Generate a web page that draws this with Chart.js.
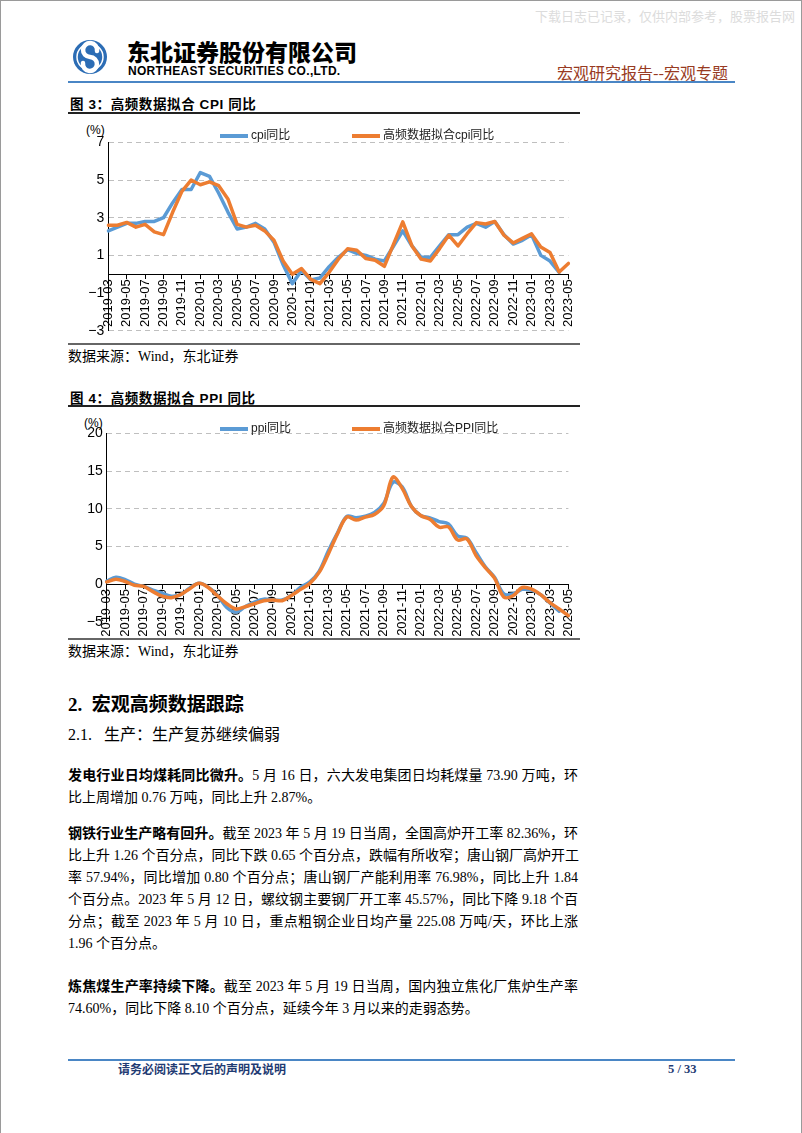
<!DOCTYPE html>
<html>
<head>
<meta charset="utf-8">
<script src="https://cdn.jsdelivr.net/npm/chart.js@4.4.0/dist/chart.umd.min.js"></script>
<style>
  body { margin: 0; width: 802px; height: 1133px; position: relative; background: #fff; overflow: hidden;
         font-family: "Liberation Serif", "Noto Sans CJK SC", serif; color: #000; }
  .a { position: absolute; white-space: nowrap; }
  .frame { left: 0; top: 0; width: 800px; height: 1133px; border: 1px solid #9a9a9a; border-bottom: none; }
  .sans { font-family: "Noto Sans CJK SC", sans-serif; }
  .figtitle { font-family: "Liberation Sans", "Noto Sans CJK SC", sans-serif; font-weight: bold; font-size: 13.5px; letter-spacing: 0.6px; line-height: 18px; }
  .rule { background: #222; height: 2px; left: 68px; width: 512px; }
  .thin { background: #666; height: 2px; left: 68px; width: 512px; }
  .src { font-size: 14px; line-height: 20px; left: 68px; }
  .unit { font-family: "Liberation Sans", sans-serif; font-size: 12px; line-height: 14px; }
  .leg { font-family: "Liberation Sans", "Noto Sans CJK SC", sans-serif; font-size: 12px; line-height: 14px; color: #222; }
  .legline { height: 4px; width: 28px; }
  .para { left: 68px; width: 510px; font-size: 14px; line-height: 22px; }
  .para div { text-align: justify; text-align-last: justify; white-space: nowrap; }
  .para div.last { text-align-last: left; }
  .para b { font-family: "Noto Sans CJK SC", sans-serif; font-weight: bold; }
</style>
</head>
<body>
<div class="a frame"></div>
<div class="a sans" style="left:535px;top:8px;font-size:13px;line-height:16px;color:#dcdcdc;">下载日志已记录，仅供内部参考，股票报告网</div>

<svg class="a" style="left:70px;top:37px;" width="42" height="42" viewBox="0 0 42 42">
  <circle cx="20" cy="20" r="17" fill="#2C6DB5"/>
  <circle cx="20" cy="20" r="13" fill="none" stroke="#fff" stroke-width="1.5"/>
  <path d="M27 14 A7 7 0 1 0 20 20 A7 7 0 1 1 13 26" fill="none" stroke="#fff" stroke-width="4.5" stroke-linecap="round"/>
</svg>
<div class="a sans" style="left:127px;top:37px;font-size:23px;line-height:28px;font-weight:900;">东北证券股份有限公司</div>
<div class="a" style="left:128px;top:64px;font-family:'Liberation Sans',sans-serif;font-weight:bold;font-size:12px;line-height:14px;letter-spacing:0.3px;">NORTHEAST SECURITIES CO.,LTD.</div>
<div class="a sans" style="left:557px;top:62px;font-size:16px;line-height:20px;color:#983A22;">宏观研究报告--宏观专题</div>
<div class="a" style="left:68px;top:81px;width:667px;height:2px;background:#4A86C5;"></div>

<!-- figure 3 -->
<div class="a figtitle" style="left:70px;top:96px;">图 3：高频数据拟合 CPI 同比</div>
<div class="a rule" style="top:112px;"></div>
<div class="a unit" style="left:86px;top:123px;">(%)</div>
<div class="a" style="left:60px;top:130px;"><canvas id="cpiChart" width="525" height="215"></canvas></div>
<div id="cpiLegend"></div>
<div class="a thin" style="top:343px;"></div>
<div class="a src" style="top:347px;">数据来源：Wind，东北证券</div>

<!-- figure 4 -->
<div class="a figtitle" style="left:70px;top:390px;">图 4：高频数据拟合 PPI 同比</div>
<div class="a rule" style="top:405px;"></div>
<div class="a unit" style="left:84px;top:416px;">(%)</div>
<div class="a" style="left:60px;top:421px;"><canvas id="ppiChart" width="525" height="220"></canvas></div>
<div id="ppiLegend"></div>
<div class="a thin" style="top:638px;"></div>
<div class="a src" style="top:642px;">数据来源：Wind，东北证券</div>

<!-- text -->
<div class="a" style="left:68px;top:690px;font-size:19px;line-height:26px;font-weight:bold;">2.&nbsp;&nbsp;<span class="sans">宏观高频数据跟踪</span></div>
<div class="a" style="left:68px;top:722px;font-size:16px;line-height:22px;">2.1.&nbsp;&nbsp;&nbsp;<span class="sans">生产：生产复苏继续偏弱</span></div>

<div class="a para" style="top:763px;">
  <div><b>发电行业日均煤耗同比微升。</b>5 月 16 日，六大发电集团日均耗煤量 73.90 万吨，环</div>
  <div class="last">比上周增加 0.76 万吨，同比上升 2.87%。</div>
</div>
<div class="a para" style="top:821px;">
  <div><b>钢铁行业生产略有回升。</b>截至 2023 年 5 月 19 日当周，全国高炉开工率 82.36%，环</div>
  <div>比上升 1.26 个百分点，同比下跌 0.65 个百分点，跌幅有所收窄；唐山钢厂高炉开工</div>
  <div>率 57.94%，同比增加 0.80 个百分点；唐山钢厂产能利用率 76.98%，同比上升 1.84</div>
  <div>个百分点。2023 年 5 月 12 日，螺纹钢主要钢厂开工率 45.57%，同比下降 9.18 个百</div>
  <div>分点；截至 2023 年 5 月 10 日，重点粗钢企业日均产量 225.08 万吨/天，环比上涨</div>
  <div class="last">1.96 个百分点。</div>
</div>
<div class="a para" style="top:974px;">
  <div><b>炼焦煤生产率持续下降。</b>截至 2023 年 5 月 19 日当周，国内独立焦化厂焦炉生产率</div>
  <div class="last">74.60%，同比下降 8.10 个百分点，延续今年 3 月以来的走弱态势。</div>
</div>

<div class="a" style="left:68px;top:1059px;width:667px;height:2px;background:#4A86C5;"></div>
<div class="a sans" style="left:118px;top:1061px;font-size:12px;line-height:16px;font-weight:bold;color:#1F3B73;">请务必阅读正文后的声明及说明</div>
<div class="a" style="left:668px;top:1061px;font-size:12.5px;line-height:16px;font-weight:bold;color:#1F3B73;">5 / 33</div>

<script>
var months = [
  "2019-03", "2019-04", "2019-05", "2019-06", "2019-07", "2019-08", "2019-09", "2019-10", "2019-11", "2019-12",
  "2020-01", "2020-02", "2020-03", "2020-04", "2020-05", "2020-06", "2020-07", "2020-08", "2020-09", "2020-10", "2020-11", "2020-12",
  "2021-01", "2021-02", "2021-03", "2021-04", "2021-05", "2021-06", "2021-07", "2021-08", "2021-09", "2021-10", "2021-11", "2021-12",
  "2022-01", "2022-02", "2022-03", "2022-04", "2022-05", "2022-06", "2022-07", "2022-08", "2022-09", "2022-10", "2022-11", "2022-12",
  "2023-01", "2023-02", "2023-03", "2023-04", "2023-05"
];

// CPI yoy (%)
var cpiActual = [
  2.3, 2.5, 2.7, 2.7, 2.8, 2.8, 3.0, 3.8, 4.5, 4.5,
  5.4, 5.2, 4.3, 3.3, 2.4, 2.5, 2.7, 2.4, 1.7, 0.5, -0.5, 0.2,
  -0.3, -0.2, 0.4, 0.9, 1.3, 1.1, 1.0, 0.8, 0.7, 1.5, 2.3, 1.5,
  0.9, 0.9, 1.5, 2.1, 2.1, 2.5, 2.7, 2.5, 2.8, 2.1, 1.6, 1.8,
  2.1, 1.0, 0.7, 0.1, null
];
var cpiFitted = [
  2.6, 2.6, 2.75, 2.5, 2.65, 2.25, 2.1, 3.3, 4.4, 5.0,
  4.75, 4.9, 4.7, 4.0, 2.65, 2.5, 2.6, 2.3, 1.8, 0.7, 0.0, 0.3,
  -0.27, -0.5, 0.1, 0.8, 1.35, 1.27, 0.83, 0.74, 0.42, 1.6, 2.78, 1.5,
  0.8, 0.7, 1.36, 2.07, 1.5, 2.15, 2.74, 2.67, 2.8, 2.07, 1.66, 1.9,
  2.14, 1.45, 1.15, 0.12, 0.57
];

// PPI yoy (%)
var ppiActual = [
  0.4, 0.9, 0.6, 0.0, -0.3, -0.8, -1.2, -1.6, -1.4, -0.5,
  0.1, -0.4, -1.5, -3.1, -3.7, -3.0, -2.4, -2.0, -2.1, -2.1, -1.5, -0.4,
  0.3, 1.7, 4.4, 6.8, 9.0, 8.8, 9.0, 9.5, 10.7, 13.5, 12.9, 10.3,
  9.1, 8.8, 8.3, 8.0, 6.4, 6.1, 4.2, 2.3, 0.9, -1.3, -1.3, -0.7,
  -0.8, -1.4, -2.5, -3.6, null
];
var ppiFitted = [
  0.3, 0.65, 0.35, -0.15, -0.3, -1.0, -1.6, -1.8, -1.4, -0.6,
  0.1, -0.45, -1.55, -2.6, -3.3, -3.0, -2.6, -2.2, -2.1, -2.2, -1.5, -0.7,
  0.1, 1.55, 4.0, 6.7, 8.9, 8.5, 8.9, 9.25, 10.4, 14.2, 12.7, 10.3,
  9.1, 8.6, 7.55, 7.6, 5.87, 6.0, 3.8, 2.2, 0.8, -1.7, -1.55, -0.45,
  -0.65, -1.4, -2.45, -3.3, -4.2
];

var cpiNames = ["cpi同比", "高频数据拟合cpi同比"];
var ppiNames = ["ppi同比", "高频数据拟合PPI同比"];
var cpiYTicks = [-3, -1, 1, 3, 5, 7];
var ppiYTicks = [-5, 0, 5, 10, 15, 20];
var xTickEvery = 2;

var BLUE = "#5B9BD5";
var ORANGE = "#ED7D31";

function makeChart(canvasId, actual, fitted, names, yTicks, hideGrid, smooth, yWidth, pad) {
  var lo = yTicks[0];
  var hi = yTicks[yTicks.length - 1];
  var step = yTicks[1] - yTicks[0];
  var lineOpts = { borderWidth: 3.5, pointRadius: 0, tension: smooth ? 0.35 : 0,
                   borderJoinStyle: "round", borderCapStyle: "round", fill: false };
  return new Chart(document.getElementById(canvasId), {
    type: "line",
    data: {
      labels: months,
      datasets: [
        Object.assign({ label: names[0], data: actual, borderColor: BLUE, backgroundColor: BLUE, order: 1 }, lineOpts),
        Object.assign({ label: names[1], data: fitted, borderColor: ORANGE, backgroundColor: ORANGE, order: 0 }, lineOpts)
      ]
    },
    options: {
      responsive: false,
      animation: false,
      devicePixelRatio: 1,
      layout: { padding: pad },
      plugins: { legend: { display: false }, tooltip: { enabled: false } },
      scales: {
        x: {
          position: { y: 0 },
          grid: {
            drawOnChartArea: false,
            tickLength: 4,
            tickColor: function (c) { return c.index % xTickEvery ? "rgba(0,0,0,0)" : "#000"; }
          },
          border: { color: "#000", width: 1 },
          ticks: {
            autoSkip: false, maxRotation: 90, minRotation: 90, padding: 1, color: "#000",
            font: { family: "Liberation Sans", size: 13 },
            callback: function (v, i) { return i % xTickEvery ? "" : this.getLabelForValue(v); }
          }
        },
        y: {
          min: lo, max: hi,
          afterFit: function (s) { s.width = yWidth; },
          grid: {
            drawTicks: false,
            color: function (c) {
              return (c.tick && hideGrid.indexOf(c.tick.value) >= 0) ? "rgba(0,0,0,0)" : "#BFBFBF";
            }
          },
          border: { display: true, color: "#000", width: 1, dash: [5, 4] },
          ticks: {
            stepSize: step, padding: 4, color: "#000",
            font: { family: "Liberation Sans", size: 14 },
            callback: function (v) { return String(v).replace("-", "\u2212"); }
          }
        }
      }
    }
  });
}

function makeLegend(holderId, chart, top, starts) {
  var holder = document.getElementById(holderId);
  chart.data.datasets.forEach(function (ds, i) {
    var line = document.createElement("div");
    line.className = "a legline";
    line.style.left = starts[i] + "px";
    line.style.top = (top - 2) + "px";
    line.style.background = ds.borderColor;
    holder.appendChild(line);
    var txt = document.createElement("div");
    txt.className = "a leg";
    txt.style.left = (starts[i] + 31) + "px";
    txt.style.top = (top - 8) + "px";
    txt.textContent = ds.label;
    holder.appendChild(txt);
  });
}

var cpiChart = makeChart("cpiChart", cpiActual, cpiFitted, cpiNames, cpiYTicks, [-1], false, 48.3,
  { top: 12.3, right: 12, bottom: 14.3, left: 0 });
var ppiChart = makeChart("ppiChart", ppiActual, ppiFitted, ppiNames, ppiYTicks, [0, -5], true, 46.7,
  { top: 12.3, right: 11.7, bottom: 19.2, left: 0 });

makeLegend("cpiLegend", cpiChart, 136, [220, 352]);
makeLegend("ppiLegend", ppiChart, 429, [220, 352]);
</script>
</body>
</html>
